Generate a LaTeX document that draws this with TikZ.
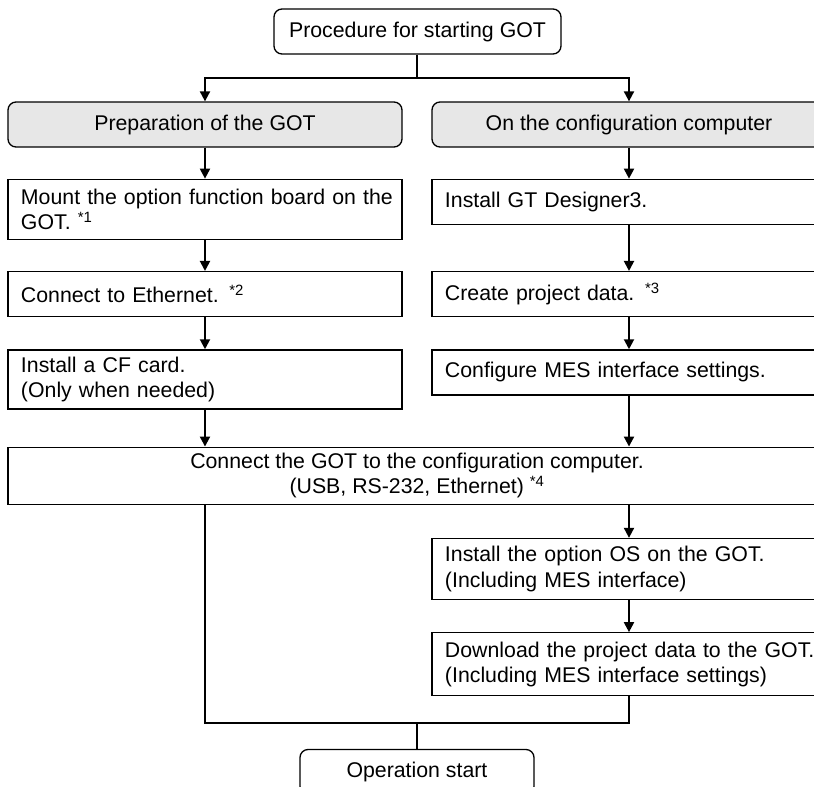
\documentclass[tikz,border=0pt]{standalone}
\usepackage{fontspec}
\setmainfont{Liberation Sans}
\usetikzlibrary{positioning, arrows.meta}
\definecolor{headgray}{RGB}{231,231,231}

\begin{document}
\begin{tikzpicture}[
	stepbase/.style={rectangle, draw, line width=1.3pt, inner sep=0pt, font=\fontsize{21.3pt}{25.5pt}\selectfont},
	terminal/.style={stepbase, rounded corners=8pt, minimum width=287pt, minimum height=45pt},
	headbox/.style={stepbase, rounded corners=8pt, fill=headgray, minimum width=394pt, minimum height=45pt},
	taskbox/.style={stepbase, text width=368pt, inner xsep=13pt, align=left, minimum height=45pt},
	widebox/.style={stepbase, align=center, minimum width=818pt, minimum height=57pt},
	link/.style={line width=2pt},
	arr/.style={link, -{Triangle[length=10pt, width=10pt]}}
]

\useasboundingbox (-417.5pt,31.5pt) rectangle (396.5pt,-755.5pt);
\clip (-417.5pt,31.5pt) rectangle (396.5pt,-755.5pt);

\node[terminal] (start) at (0,0) {Procedure for starting GOT};
\node[headbox] (prep) at (-212.5pt,-93pt) {Preparation of the GOT};
\node[headbox] (conf) at (211.5pt,-93pt) {On the configuration computer};

\node[taskbox, minimum height=60pt, below=31pt of prep] (board) {\mbox{Mount the option function board on the}\\GOT. \textsuperscript{*1}};
\node[taskbox, below=31pt of board] (ether) {Connect to Ethernet. \textsuperscript{*2}};
\node[taskbox, minimum height=59pt, below=32pt of ether] (cfcard) {Install a CF card.\\(Only when needed)};

\node[taskbox, below=31pt of conf] (designer) {Install GT Designer3.};
\node[taskbox, below=46pt of designer] (project) {Create project data. \textsuperscript{*3}};
\node[taskbox, below=32pt of project] (messet) {Configure MES interface settings.};

\node[widebox, below=37pt of cfcard.south west, anchor=north west] (connect) {Connect the GOT to the configuration computer.\\(USB, RS-232, Ethernet) \textsuperscript{*4}};
\node[taskbox, minimum height=61pt, below=33pt of connect.south east, anchor=north east] (osinst) {Install the option OS on the GOT.\\(Including MES interface)};
\node[taskbox, minimum height=63pt, below=32pt of osinst] (dload) {\mbox{Download the project data to the GOT.}\\(Including MES interface settings)};
\node[terminal, minimum width=234pt, below=244pt of connect] (opstart) {Operation start};

\coordinate[below=23pt of start] (split);
\coordinate[above=26pt of opstart] (merge);

\draw[link] (start) -- (split);
\draw[arr] (split) -| (prep);
\draw[arr] (split) -| (conf);

\draw[arr] (prep) -- (board);
\draw[arr] (board) -- (ether);
\draw[arr] (ether) -- (cfcard);
\draw[arr] (cfcard) -- (cfcard |- connect.north);

\draw[arr] (conf) -- (designer);
\draw[arr] (designer) -- (project);
\draw[arr] (project) -- (messet);
\draw[arr] (messet) -- (messet |- connect.north);

\draw[arr] (connect.south -| osinst) -- (osinst);
\draw[arr] (osinst) -- (dload);

\draw[link] (cfcard.south |- connect.south) |- (merge) -| (dload);
\draw[link] (merge) -- (opstart);

\end{tikzpicture}
\end{document}
